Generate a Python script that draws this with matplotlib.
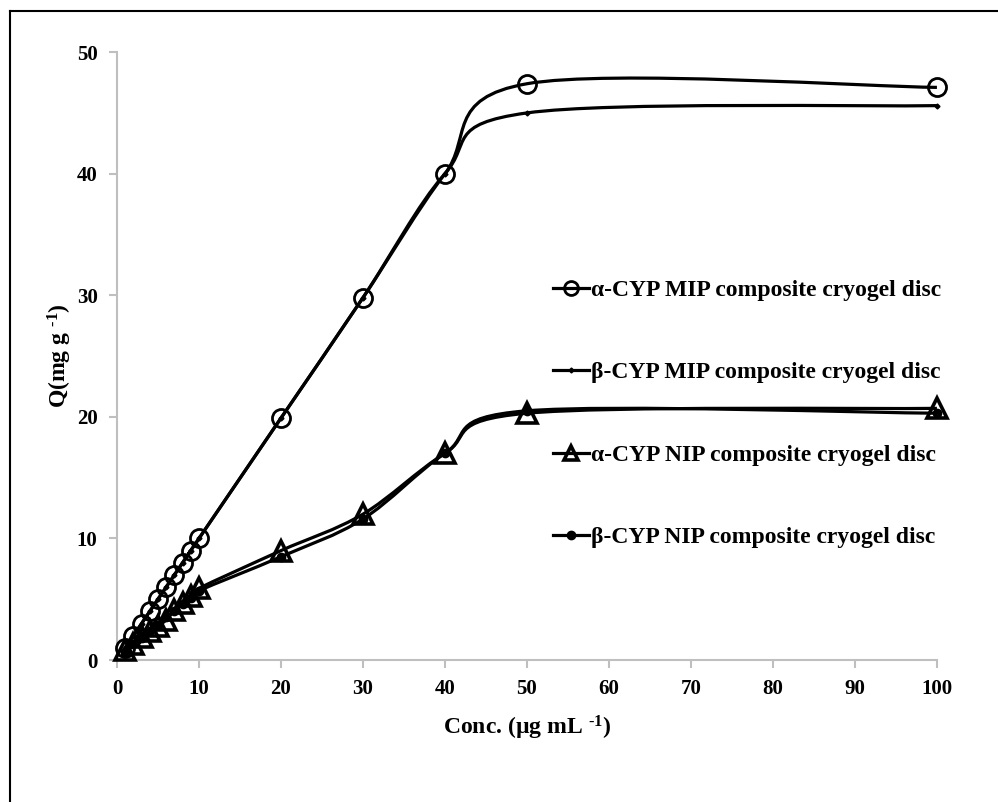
import numpy as np
import matplotlib
matplotlib.use("Agg")
import matplotlib.pyplot as plt
from matplotlib.path import Path
from matplotlib.patches import PathPatch
from matplotlib.lines import Line2D

plt.rcParams['font.family'] = ['Liberation Serif', 'DejaVu Serif']
plt.rcParams['font.weight'] = 'bold'
plt.rcParams['mathtext.fontset'] = 'custom'
plt.rcParams['mathtext.rm'] = 'Liberation Serif:bold'
plt.rcParams['mathtext.bf'] = 'Liberation Serif:bold'
plt.rcParams['mathtext.it'] = 'Liberation Serif:bold'

conc = [1, 2, 3, 4, 5, 6, 7, 8, 9, 10, 20, 30, 40, 50, 100]
alpha_mip = [1, 2, 3, 4, 5, 6, 7, 8, 9, 10, 19.9, 29.8, 40.0, 47.4, 47.1]
beta_mip = [1, 2, 3, 4, 5, 6, 7, 8, 9, 10, 19.9, 29.8, 40.0, 45.0, 45.6]
alpha_nip = [0.8, 1.3, 1.9, 2.4, 2.8, 3.3, 4.1, 4.7, 5.3, 5.9, 9.0, 12.0, 17.0, 20.3, 20.7]
beta_nip = [0.7, 1.3, 1.8, 2.4, 2.9, 3.5, 4.0, 4.6, 5.1, 5.7, 8.5, 11.6, 17.0, 20.5, 20.3]

labels = ['α-CYP MIP composite cryogel disc',
          'β-CYP MIP composite cryogel disc',
          'α-CYP NIP composite cryogel disc',
          'β-CYP NIP composite cryogel disc']


def smooth_path(x, y):
    # excel-like smoothed line: cubic bezier through the points
    pts = np.column_stack([x, y]).astype(float)
    n = len(pts)
    verts = [pts[0]]
    codes = [Path.MOVETO]
    for i in range(n - 1):
        p0 = pts[max(i - 1, 0)]
        p1 = pts[i]
        p2 = pts[i + 1]
        p3 = pts[min(i + 2, n - 1)]
        verts += [p1 + (p2 - p0) / 6, p2 - (p3 - p1) / 6, p2]
        codes += [Path.CURVE4] * 3
    return Path(verts, codes)


fig = plt.figure(figsize=(9.98, 8.02), dpi=100)
ax = fig.add_axes([0.1172, 0.177, 0.8216, 0.758])

lw = 2.3
series = [
    (alpha_mip, dict(marker='o', markersize=13, markerfacecolor='none', markeredgewidth=2.0)),
    (beta_mip, dict(marker='D', markersize=2.5, markerfacecolor='black')),
    (alpha_nip, dict(marker='^', markersize=14, markerfacecolor='none', markeredgewidth=2.6)),
    (beta_nip, dict(marker='o', markersize=6, markerfacecolor='black')),
]
handles = []
for (vals, mk), lab in zip(series, labels):
    ax.add_patch(PathPatch(smooth_path(conc, vals), facecolor='none',
                           edgecolor='black', lw=lw, clip_on=False))
    ax.plot(conc, vals, linestyle='none', color='black', clip_on=False, zorder=3, **mk)
    hk = dict(mk)
    if hk['markersize'] > 10:
        hk['markersize'] = 10
    handles.append(Line2D([], [], color='black', lw=lw, **hk))

ax.set_xlim(0, 100)
ax.set_ylim(0, 50)
ax.set_xticks(range(0, 101, 10))
ax.set_yticks(range(0, 51, 10))
for s in ['top', 'right']:
    ax.spines[s].set_visible(False)
for s in ['left', 'bottom']:
    ax.spines[s].set_color('#bfbfbf')
    ax.spines[s].set_linewidth(1.5)
ax.tick_params(axis='both', colors='#bfbfbf', width=1.5, length=6,
               labelcolor='black', labelsize=15, pad=8)
for t in ax.get_xticklabels() + ax.get_yticklabels():
    t.set_fontweight('bold')

ax.set_xlabel(r'Conc. (µg mL $^{\text{-}1}$)', fontsize=17, fontweight='bold', labelpad=10)
ax.set_ylabel(r'Q(mg g $^{\text{-}1}$)', fontsize=17, fontweight='bold', labelpad=2)

ax.legend(handles, labels, loc='upper left', bbox_to_anchor=(0.532, 0.626),
          frameon=False, labelspacing=2.58, handlelength=1.5,
          handletextpad=0.1, borderaxespad=0, borderpad=0,
          prop={'weight': 'bold', 'size': 17})

# outer frame
fig.add_artist(Line2D([0.010, 1.0], [1 - 11 / 802, 1 - 11 / 802],
                      transform=fig.transFigure, color='black', lw=1.5))
fig.add_artist(Line2D([0.010, 0.010], [0.0, 1 - 11 / 802],
                      transform=fig.transFigure, color='black', lw=1.5))

fig.savefig('out.png', dpi=100)
